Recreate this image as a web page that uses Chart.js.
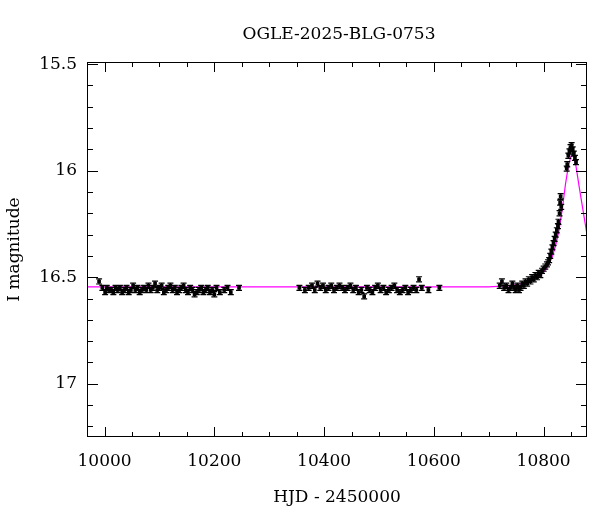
<!DOCTYPE html>
<html><head><meta charset="utf-8">
<script src="https://cdn.jsdelivr.net/npm/chart.js@4/dist/chart.umd.min.js"></script>
<style>html,body{margin:0;padding:0;background:#fff}#c{display:block}</style>
</head><body>
<canvas id="c" width="600" height="512"></canvas>
<script>
const title = "OGLE-2025-BLG-0753";
const xLabel = "HJD - 2450000";
const yLabel = "I magnitude";
const xTicks = [10000, 10200, 10400, 10600, 10800];
const yTicks = [15.5, 16, 16.5, 17];
const obsDates = [
 9990,9996,10001,10004,10008,10012,10016,10020,10024,10028,10032,10036,10040,10044,10048,10052,10056,10060,10064,10068,10072,10076,10080,10084,10088,10092,10096,10100,10104,10108,10112,10116,10120,10124,10128,10132,10136,10140,10144,10148,10152,10156,10160,10164,10168,10172,10176,10180,10184,10188,10192,10196,10200,10204,10210,10218,10224,10230,10245,
 10355,10365,10372,10378,10383,10388,10393,10398,10403,10408,10413,10418,10423,10428,10433,10438,10443,10448,10453,10458,10463,10468,10473,10478,10483,10488,10493,10498,10503,10508,10513,10518,10523,10528,10533,10538,10543,10548,10553,10558,10563,10568,10573,10578,10590,10610,
 10720,10724,10728,10732,10736,10740,10743,10746,10749,10752,10755,10758,10761,10764,10767,10770,10773,10776,10779,10782,10785,10788,10791,10794,10797,10800,10803,10806,10808,10810,10812,10814,10816,10818,10820,10822,10824,10826,10827,10829,10830,10831,10832,10842,10843,10845,10847,10849,10851,10853,10855,10857,10859
];
const obsMags = [
 16.52,16.55,16.57,16.55,16.56,16.56,16.57,16.55,16.56,16.55,16.57,16.56,16.55,16.57,16.56,16.54,16.56,16.55,16.57,16.56,16.55,16.56,16.54,16.56,16.55,16.53,16.56,16.55,16.54,16.57,16.56,16.55,16.54,16.56,16.55,16.57,16.56,16.55,16.54,16.56,16.57,16.55,16.56,16.58,16.57,16.56,16.55,16.57,16.56,16.55,16.57,16.56,16.58,16.55,16.57,16.56,16.55,16.57,16.55,
 16.55,16.56,16.55,16.54,16.56,16.53,16.55,16.54,16.56,16.55,16.54,16.56,16.55,16.54,16.55,16.56,16.55,16.54,16.56,16.55,16.57,16.56,16.59,16.55,16.56,16.57,16.55,16.54,16.56,16.55,16.57,16.56,16.55,16.54,16.56,16.57,16.56,16.55,16.57,16.56,16.55,16.56,16.51,16.55,16.56,16.55,
 16.54,16.52,16.55,16.54,16.56,16.55,16.53,16.55,16.56,16.54,16.56,16.55,16.53,16.54,16.52,16.53,16.51,16.52,16.50,16.51,16.49,16.50,16.48,16.49,16.47,16.46,16.45,16.44,16.43,16.42,16.40,16.38,16.36,16.34,16.32,16.30,16.28,16.26,16.24,16.20,16.15,16.12,16.17,15.99,15.97,15.93,15.91,15.89,15.88,15.90,15.92,15.94,15.96
];
const obsErrs = obsDates.map((d,i)=> 0.012);
const modelDates = [9968,10700,10740,10760,10780,10795,10805,10815,10822,10828,10834,10840,10845,10849,10852,10855,10859,10865,10872,10879];
const modelMags  = [16.545,16.545,16.54,16.53,16.51,16.49,16.46,16.41,16.35,16.28,16.18,16.06,15.98,15.94,15.92,15.93,15.98,16.08,16.19,16.30];

const FONT = "'DejaVu Serif', 'Liberation Serif', serif";
const PL = 87, PR = 587, PT = 62, PB = 437;

const frame = {
  id:'frame',
  afterDraw(ch){
    const c = ch.ctx, a = ch.chartArea, xs = ch.scales.x, ys = ch.scales.y;
    c.save();
    c.strokeStyle='#000'; c.lineWidth=1;
    c.strokeRect(a.left+0.5,a.top+0.5,a.right-a.left-1,a.bottom-a.top-1);
    c.beginPath();
    for(let v=9950; v<=10900; v+=50){
      if(v<xs.min||v>xs.max) continue;
      const px=Math.round(xs.getPixelForValue(v))+0.5, L=(v%200===0)?10:5;
      c.moveTo(px,a.bottom); c.lineTo(px,a.bottom-L);
      c.moveTo(px,a.top); c.lineTo(px,a.top+L);
    }
    for(let k=155; k<=173; k++){
      const v=k/10; if(v<ys.min||v>ys.max) continue;
      const py=Math.round(ys.getPixelForValue(v))+0.5, L=(k%5===0)?11:6;
      c.moveTo(a.left,py); c.lineTo(a.left+L,py);
      c.moveTo(a.right,py); c.lineTo(a.right-L,py);
    }
    c.stroke();
    c.fillStyle='#000'; c.font='17px '+FONT; c.textAlign='center'; c.textBaseline='middle';
    c.fillText(title,(a.left+a.right)/2+2,35);
    c.restore();
  }
};
const errbars = {
  id:'errbars',
  afterDatasetsDraw(ch){
    const c=ch.ctx, xs=ch.scales.x, ys=ch.scales.y;
    c.save(); c.strokeStyle='#000'; c.lineWidth=1.2; c.beginPath();
    obsDates.forEach((d,i)=>{
      const px=xs.getPixelForValue(d), y1=ys.getPixelForValue(obsMags[i]-obsErrs[i]), y2=ys.getPixelForValue(obsMags[i]+obsErrs[i]);
      c.moveTo(px,y1); c.lineTo(px,y2);
      c.moveTo(px-3,y1); c.lineTo(px+3,y1);
      c.moveTo(px-3,y2); c.lineTo(px+3,y2);
    });
    c.stroke(); c.restore();
  }
};

new Chart(document.getElementById('c'),{
  type:'scatter',
  data:{datasets:[
    {label:'model',data:modelDates.map((d,i)=>({x:d,y:modelMags[i]})),showLine:true,borderColor:'#ff00ff',borderWidth:1.2,pointRadius:0,tension:0,order:2},
    {label:'data',data:obsDates.map((d,i)=>({x:d,y:obsMags[i]})),pointRadius:2.6,pointStyle:'rect',backgroundColor:'#000',borderColor:'#000',borderWidth:0,order:1}
  ]},
  options:{
    responsive:false, animation:false,
    layout:{padding:{left:0,right:600-PR,top:PT,bottom:0}},
    plugins:{legend:{display:false},tooltip:{enabled:false}},
    scales:{
      x:{type:'linear',min:9968,max:10879,
        grid:{display:false,drawTicks:false}, border:{display:false},
        afterBuildTicks(s){s.ticks=xTicks.map(v=>({value:v}));},
        afterFit(s){s.height=512-PB;},
        ticks:{padding:14,color:'#000',font:{family:FONT,size:17},maxRotation:0,callback:v=>String(v)},
        title:{display:true,text:xLabel,color:'#000',font:{family:FONT,size:17},padding:{top:6}}
      },
      y:{type:'linear',reverse:true,min:15.49,max:17.25,
        grid:{display:false,drawTicks:false}, border:{display:false},
        afterBuildTicks(s){s.ticks=yTicks.map(v=>({value:v}));},
        afterFit(s){s.width=PL;},
        ticks:{padding:10,color:'#000',font:{family:FONT,size:17},callback:v=>String(v)},
        title:{display:true,text:yLabel,color:'#000',font:{family:FONT,size:17},padding:{bottom:10}}
      }
    }
  },
  plugins:[frame,errbars]
});
</script>
</body></html>
